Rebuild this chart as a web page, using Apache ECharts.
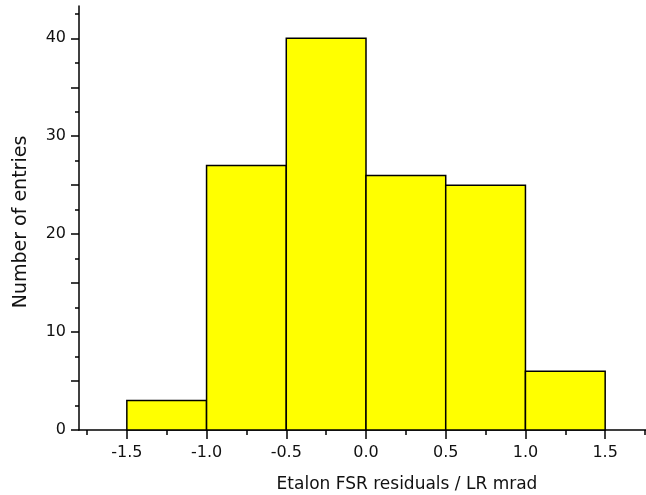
<!DOCTYPE html>
<html>
<head>
<meta charset="utf-8">
<script src="https://cdn.jsdelivr.net/npm/echarts@6/dist/echarts.min.js"></script>
<style>
  html, body { margin: 0; padding: 0; background: #fff; }
  #chart { width: 646px; height: 495px; }
</style>
</head>
<body>
<div id="chart"></div>
<script>
// Histogram bin edges (mrad) and entries per bin
const binEdges = [-1.5, -1.0, -0.5, 0.0, 0.5, 1.0, 1.5];
const binCounts = [3, 27, 40, 26, 25, 6];

// Axis ticks and labels
const xMajorTicks = [-1.5, -1.0, -0.5, 0.0, 0.5, 1.0, 1.5];
const xMinorTicks = [-1.75, -1.25, -0.75, -0.25, 0.25, 0.75, 1.25, 1.75];
const yTicks = [0, 5, 10, 15, 20, 25, 30, 35, 40];
const yLabels = [0, 10, 20, 30, 40];
const yMinorTicks = [2.5, 7.5, 12.5, 17.5, 22.5, 27.5, 32.5, 37.5, 42.5];

const bins = binCounts.map((c, i) => [binEdges[i], binEdges[i + 1], c]);

const FONT = 'DejaVu Sans';
const TEXT = '#111';
const X_MIN = -1.8, X_MAX = 1.8, Y_MIN = 0, Y_MAX = 43.3;

const chart = echarts.init(document.getElementById('chart'), null, { renderer: 'canvas' });

const axisLineStyle = { color: '#000', width: 1.5 };
const tickStyle = { color: '#000', width: 1.5 };

chart.setOption({
  animation: false,
  backgroundColor: '#fff',
  grid: { left: 79, right: -7, top: 6, bottom: 65, containLabel: false, outerBoundsMode: 'none' },
  xAxis: [
    {
      type: 'value', min: X_MIN, max: X_MAX, position: 'bottom',
      splitLine: { show: false },
      axisLine: { show: true, onZero: false, lineStyle: axisLineStyle },
      axisTick: { show: true, length: 9, customValues: xMajorTicks, lineStyle: tickStyle },
      axisLabel: {
        show: true, customValues: xMajorTicks, margin: 15,
        color: TEXT, fontFamily: FONT, fontSize: 16,
        formatter: v => v.toFixed(1)
      },
      name: 'Etalon FSR residuals / LR mrad',
      nameLocation: 'middle', nameGap: 46,
      nameTextStyle: { color: TEXT, fontFamily: FONT, fontSize: 17, padding: [0, 0, 0, 82] }
    },
    {
      type: 'value', min: X_MIN, max: X_MAX, position: 'bottom', offset: 0,
      splitLine: { show: false },
      axisLine: { show: false, onZero: false },
      axisTick: { show: true, length: 5, customValues: xMinorTicks, lineStyle: tickStyle },
      axisLabel: { show: false }
    }
  ],
  yAxis: [
    {
      type: 'value', min: Y_MIN, max: Y_MAX, position: 'left',
      splitLine: { show: false },
      axisLine: { show: true, onZero: false, lineStyle: axisLineStyle },
      axisTick: { show: true, length: 8, customValues: yTicks, lineStyle: tickStyle },
      axisLabel: {
        show: true, customValues: yLabels, margin: 13,
        color: TEXT, fontFamily: FONT, fontSize: 16
      },
      name: 'Number of entries',
      nameLocation: 'middle', nameGap: 48,
      nameTextStyle: { color: TEXT, fontFamily: FONT, fontSize: 19, padding: [0, 8, 0, 0] }
    },
    {
      type: 'value', min: Y_MIN, max: Y_MAX, position: 'left', offset: 0,
      splitLine: { show: false },
      axisLine: { show: false, onZero: false },
      axisTick: { show: true, length: 4, customValues: yMinorTicks, lineStyle: tickStyle },
      axisLabel: { show: false }
    }
  ],
  series: [
    {
      type: 'custom',
      xAxisIndex: 0,
      yAxisIndex: 0,
      data: bins,
      encode: { x: [0, 1], y: 2 },
      renderItem: function (params, api) {
        const p0 = api.coord([api.value(0), api.value(2)]);
        const p1 = api.coord([api.value(1), 0]);
        return {
          type: 'rect',
          shape: { x: p0[0], y: p0[1], width: p1[0] - p0[0], height: p1[1] - p0[1] },
          style: { fill: '#ffff00', stroke: '#000', lineWidth: 1.5 }
        };
      }
    }
  ]
});
</script>
</body>
</html>
